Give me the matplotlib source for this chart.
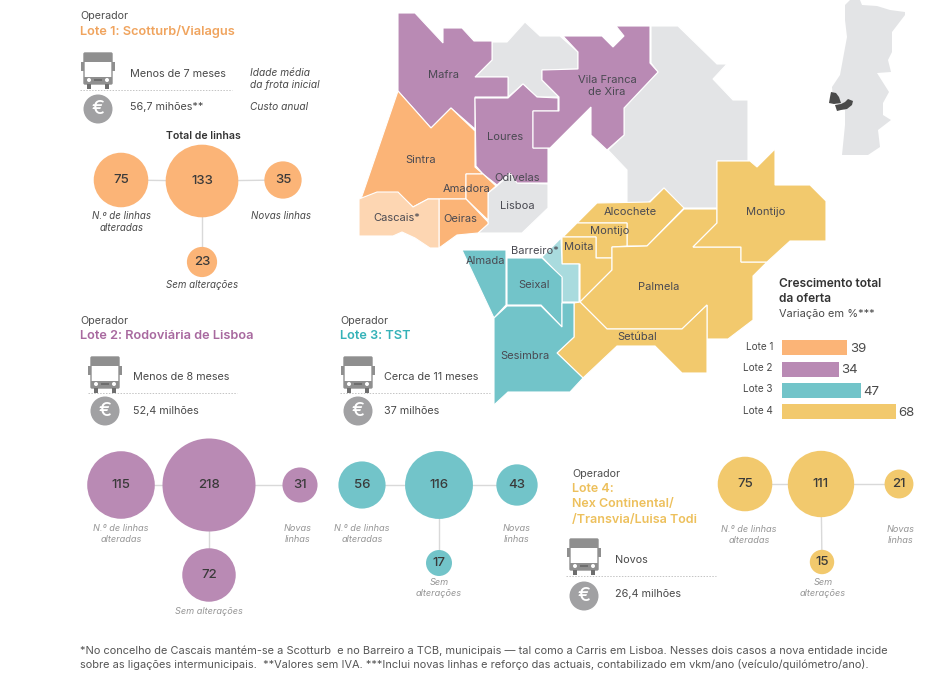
import matplotlib
matplotlib.use('Agg')
import matplotlib.pyplot as plt
from matplotlib.patches import Polygon, Circle, FancyBboxPatch, Rectangle
import numpy as np

plt.rcParams['font.family'] = ['Inter', 'DejaVu Sans']

W, H = 949, 679

ORANGE = '#fbb477'
ORANGE_L = '#fdd6b2'
PURPLE = '#b98ab4'
TEAL = '#72c4c9'
TEAL_L = '#a9dbde'
YELLOW = '#f2c96d'
GREY = '#e3e4e6'
TXT = '#4a4a4a'
LABEL = '#969696'

# map shapes, in picture pixels
gray_north = [(475,77),(492,60),(492,42),(507,42),(525,22),(540,36),(560,36),(578,52),(578,69),(542,70),(542,80),(559,97),(537,97),(523,84),(508,97),(508,77)]
gray_east = [(651,26),(678,26),(717,64),(727,64),(713,79),(733,100),(748,100),(748,161),(717,161),(717,208),(683,208),(664,188),(648,203),(627,203),(627,170),(608,150),(624,135),(624,108),(658,72),(651,63)]
mafra = [(398,13),(415,13),(443,43),(443,28),(462,28),(474,41),(492,41),(492,60),(475,77),(508,77),(508,97),(475,97),(475,129),(451,108),(431,128),(398,91)]
loures = [(475,98),(508,98),(523,84),(537,97),(558,98),(558,111),(533,111),(533,148),(548,148),(548,183),(517,183),(510,173),(497,185),(483,174),(476,166)]
vfxira = [(563,36),(602,36),(613,47),(624,36),(616,26),(650,26),(650,63),(658,72),(624,108),(624,135),(607,150),(591,135),(591,107),(550,148),(533,148),(533,111),(559,111),(559,97),(542,80),(542,70),(578,69),(578,52)]
sintra = [(398,91),(431,128),(451,108),(475,131),(475,167),(483,174),(466,174),(466,199),(439,199),(428,199),(413,207),(398,193),(377,193),(361,199)]
amadora = [(466,174),(483,174),(496,186),(488,193),(488,220),(466,199)]
oeiras = [(439,199),(466,199),(488,222),(488,224),(478,233),(457,235),(439,248)]
cascais = [(359,199),(377,192),(398,192),(413,207),(428,199),(439,199),(439,248),(430,248),(415,238),(402,232),(393,236),(359,236)]
lisboa = [(497,186),(511,173),(518,183),(548,184),(548,208),(522,233),(478,233),(488,224),(488,193)]
alcochete = [(597,203),(650,202),(664,188),(684,208),(647,246),(627,246),(627,223),(577,223)]
montijo_w = [(577,223),(627,223),(627,246),(612,247),(612,258),(596,258),(596,237),(563,237)]
moita = [(562,237),(596,237),(596,258),(612,258),(612,270),(580,302),(580,264),(562,264)]
palmela = [(612,247),(647,246),(684,209),(717,209),(717,223),(693,247),(741,247),(741,262),(767,262),(753,276),(753,320),(728,339),(707,339),(707,305),(682,329),(607,329),(580,302),(612,270)]
montijo_e = [(717,161),(750,161),(757,167),(775,149),(775,185),(810,185),(826,201),(826,241),(790,241),(767,262),(741,262),(741,247),(693,247),(717,223)]
setubal = [(574,303),(580,302),(607,329),(682,329),(707,305),(707,373),(682,373),(655,346),(617,346),(583,378),(557,353),(574,337)]
barreiro = [(542,257),(561,238),(562,264),(579,264),(579,302),(562,302),(562,278)]
almada = [(462,250),(506,250),(506,305),(494,318)]
seixal = [(507,258),(542,258),(562,277),(562,327),(541,305),(507,305)]
sesimbra = [(494,318),(507,306),(541,306),(562,327),(562,303),(574,303),(574,337),(557,353),(583,378),(570,392),(508,392),(494,405)]

portugal = [(845,5),(850,0),(860,0),(862,5),(877,6),(890,10),(905,12),(905,15),(892,32),(892,52),(888,60),(891,72),(877,73),(889,92),(883,103),(883,115),(891,120),(878,130),(880,147),(868,155),(842,155),(845,125),(845,110),(833,100),(832,87),(840,75),(847,37),(845,20)]
sintra_dark = [(831,92),(836,93),(839,97),(841,103),(834,104),(829,103),(830,97)]
setubal_dark = [(835,105),(841,104),(845,102),(848,99),(853,101),(852,105),(847,109),(841,110),(837,111)]

# municipality names
map_names = ['Mafra', 'Vila Franca\nde Xira', 'Loures', 'Odivelas', 'Sintra', 'Amadora', 'Cascais*', 'Oeiras', 'Lisboa',
             'Alcochete', 'Montijo', 'Montijo', 'Moita', 'Barreiro*', 'Almada', 'Seixal', 'Palmela', 'Setúbal', 'Sesimbra']
map_name_xy = [(444,75), (607,86), (505,137), (517,178), (421,160), (467,189), (397,218), (460,219), (517,206),
               (630,212), (610,231), (766,212), (579,247), (535,251), (485,261), (534,285), (659,287), (637,337), (525,356)]

# growth bars
lote_names = ['Lote 1', 'Lote 2', 'Lote 3', 'Lote 4']
growth = [39, 34, 47, 68]

# bubbles: changed, total, new, unchanged
lote1_lines = [75, 133, 35, 23]
lote2_lines = [115, 218, 31, 72]
lote3_lines = [56, 116, 43, 17]
lote4_lines = [75, 111, 21, 15]

fig = plt.figure(figsize=(W / 100, H / 100), dpi=100)
ax = fig.add_axes([0, 0, 1, 1])
ax.set_xlim(0, W)
ax.set_ylim(H, 0)
ax.axis('off')


def shape(pts, color, edge='white'):
    ax.add_patch(Polygon(pts, closed=True, facecolor=color, edgecolor=edge, lw=0.8, zorder=2))


def txt(x, y, s, size=8, color=TXT, ha='left', va='center', **kw):
    ax.text(x, y, s, fontsize=size, color=color, ha=ha, va=va, zorder=6, **kw)


def bus(cx, cy):
    # cy is the middle of the icon
    g = '#8f8f8f'
    ax.add_patch(Rectangle((cx - 17, cy - 9), 3, 9, fc=g, zorder=3))
    ax.add_patch(Rectangle((cx + 14, cy - 9), 3, 9, fc=g, zorder=3))
    ax.add_patch(FancyBboxPatch((cx - 13, cy - 17), 26, 29, boxstyle='round,pad=1', fc='white', ec=g, lw=1, zorder=3))
    ax.add_patch(Rectangle((cx - 14, cy - 18), 28, 9, fc=g, zorder=3))
    ax.add_patch(Rectangle((cx - 14, cy + 6), 28, 7, fc=g, zorder=3))
    ax.add_patch(Rectangle((cx - 11, cy + 13), 4, 5, fc='#6e6e6e', zorder=3))
    ax.add_patch(Rectangle((cx + 7, cy + 13), 4, 5, fc='#6e6e6e', zorder=3))
    ax.add_patch(Circle((cx - 9, cy + 9), 2, fc='white', zorder=4))
    ax.add_patch(Circle((cx + 9, cy + 9), 2, fc='white', zorder=4))
    ax.add_patch(Rectangle((cx - 4, cy + 8), 8, 2, fc='#6e6e6e', zorder=4))


def euro(cx, cy):
    ax.add_patch(Circle((cx, cy), 14.5, fc='#a1a1a3', zorder=3))
    ax.text(cx, cy, '€', fontsize=14, color='white', ha='center', va='center', fontweight='medium', zorder=4)


def bubbles(values, centers, color):
    hub = centers[1]
    for i in [0, 2, 3]:
        ax.plot([hub[0], centers[i][0]], [hub[1], centers[i][1]], color='#d9d9d9', lw=1, zorder=1)
    for v, (x, y) in zip(values, centers):
        ax.add_patch(Circle((x, y), 3.15 * np.sqrt(v), fc=color, zorder=3))
        txt(x, y, str(v), size=9.5, color='#3a3a3a', ha='center', fontweight='medium')


def dashed(x0, x1, y):
    ax.plot([x0, x1], [y, y], color='#c4c4c4', lw=0.7, ls=(0, (1.5, 1.5)), zorder=1)


def header(x, y, title, color):
    txt(x, y, 'Operador', size=7.7, color='#4f4f4f')
    txt(x, y + 15, title, size=9.2, color=color, fontweight='semibold')


# map
shape(portugal, GREY, edge='none')
shape(sintra_dark, '#4a4a4a', edge='none')
shape(setubal_dark, '#4a4a4a', edge='none')
for pts in [gray_north, gray_east, lisboa]:
    shape(pts, GREY)
for pts in [mafra, loures, vfxira]:
    shape(pts, PURPLE)
for pts in [sintra, amadora, oeiras]:
    shape(pts, ORANGE)
shape(cascais, ORANGE_L)
for pts in [alcochete, montijo_w, moita, palmela, montijo_e, setubal]:
    shape(pts, YELLOW)
shape(barreiro, TEAL_L)
for pts in [almada, seixal, sesimbra]:
    shape(pts, TEAL)
for name, (x, y) in zip(map_names, map_name_xy):
    txt(x, y, name, size=8, color='#4a4a52', ha='center', linespacing=1.15)

# lote 1
header(80, 16, 'Lote 1: Scotturb/Vialagus', '#f0a45e')
bus(98, 71)
euro(98, 109)
dashed(80, 232, 90)
txt(130, 74, 'Menos de 7 meses', size=7.8)
txt(130, 107, '56,7 mihões**', size=7.8)
txt(250, 79, 'Idade média\nda frota inicial', size=7.3, style='italic', linespacing=1.25)
txt(250, 107, 'Custo anual', size=7.3, style='italic')
txt(203, 136, 'Total de linhas', size=7.6, color='#333333', ha='center', fontweight='semibold')
bubbles(lote1_lines, [(121, 180), (202, 181), (283, 180), (202, 262)], ORANGE)
txt(122, 222, 'N.º de linhas\nalteradas', size=7, color=TXT, ha='center', style='italic', linespacing=1.3)
txt(281, 216, 'Novas linhas', size=7, color=TXT, ha='center', style='italic')
txt(202, 285, 'Sem alterações', size=7, color=TXT, ha='center', style='italic')

# lote 2
header(80, 321, 'Lote 2: Rodoviária de Lisboa', '#a8699f')
bus(105, 375)
euro(105, 411)
dashed(88, 237, 393)
txt(133, 377, 'Menos de 8 meses', size=7.8)
txt(133, 411, '52,4 milhões', size=7.8)
bubbles(lote2_lines, [(121, 485), (209, 485), (300, 485), (209, 575)], PURPLE)
txt(121, 534, 'N.º de linhas\nalteradas', size=6.6, color=LABEL, ha='center', style='italic', linespacing=1.3)
txt(298, 534, 'Novas\nlinhas', size=6.6, color=LABEL, ha='center', style='italic', linespacing=1.3)
txt(209, 611, 'Sem alterações', size=6.6, color=LABEL, ha='center', style='italic')

# lote 3
header(340, 321, 'Lote 3: TST', '#35b2b8')
bus(358, 375)
euro(358, 411)
dashed(340, 490, 393)
txt(384, 377, 'Cerca de 11 meses', size=7.8)
txt(384, 411, '37 milhões', size=7.8)
bubbles(lote3_lines, [(362, 485), (439, 485), (517, 485), (439, 563)], TEAL)
txt(362, 534, 'N.º de linhas\nalteradas', size=6.6, color=LABEL, ha='center', style='italic', linespacing=1.3)
txt(517, 534, 'Novas\nlinhas', size=6.6, color=LABEL, ha='center', style='italic', linespacing=1.3)
txt(439, 588, 'Sem\nalterações', size=6.6, color=LABEL, ha='center', style='italic', linespacing=1.3)

# lote 4
txt(572, 474, 'Operador', size=7.7, color='#4f4f4f')
txt(572, 489, 'Lote 4:', size=9, color='#edc05c', fontweight='semibold')
txt(572, 504, 'Nex Continental/', size=9, color='#edc05c', fontweight='semibold')
txt(572, 520, '/Transvia/Luisa Todi', size=9, color='#edc05c', fontweight='semibold')
bus(584, 557)
euro(584, 596)
dashed(566, 716, 576)
txt(615, 560, 'Novos', size=7.8)
txt(615, 594, '26,4 milhões', size=7.8)
bubbles(lote4_lines, [(745, 484), (821, 484), (899, 484), (822, 562)], YELLOW)
txt(749, 535, 'N.º de linhas\nalteradas', size=6.6, color=LABEL, ha='center', style='italic', linespacing=1.3)
txt(901, 535, 'Novas\nlinhas', size=6.6, color=LABEL, ha='center', style='italic', linespacing=1.3)
txt(823, 588, 'Sem\nalterações', size=6.6, color=LABEL, ha='center', style='italic', linespacing=1.3)

# growth panel
txt(779, 284, 'Crescimento total', size=8.6, color='#333333', fontweight='semibold')
txt(779, 299, 'da oferta', size=8.6, color='#333333', fontweight='semibold')
txt(779, 314, 'Variação em %***', size=7.9)

bar_ax = fig.add_axes([782 / W, 1 - 422.5 / H, 114 / W, 85.2 / H])
bar_ax.set_xlim(0, 68)
bar_ax.set_ylim(3.5, -0.5)
bar_ax.axis('off')
bar_ax.barh(range(4), growth, height=0.7, color=[ORANGE, PURPLE, TEAL, YELLOW])
for i, (name, v) in enumerate(zip(lote_names, growth)):
    bar_ax.text(-5.4, i - 0.05, name, fontsize=7.2, color=TXT, ha='right', va='center', clip_on=False)
    bar_ax.text(v + 1.5, i + 0.05, str(v), fontsize=9.5, color=TXT, ha='left', va='center', clip_on=False)

# footnote
txt(80, 651, '*No concelho de Cascais mantém-se a Scotturb  e no Barreiro a TCB, municipais — tal como a Carris em Lisboa. Nesses dois casos a nova entidade incide', size=7.9, color='#555555')
txt(80, 665, 'sobre as ligações intermunicipais.  **Valores sem IVA. ***Inclui novas linhas e reforço das actuais, contabilizado em vkm/ano (veículo/quilómetro/ano).', size=7.9, color='#555555')

fig.savefig('out.png', dpi=100)
